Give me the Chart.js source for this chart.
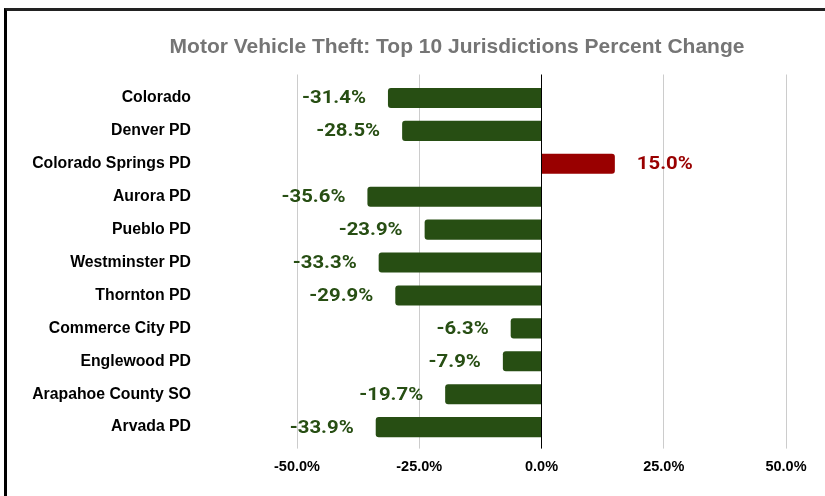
<!DOCTYPE html>
<html>
<head>
<meta charset="utf-8">
<script src="https://cdn.jsdelivr.net/npm/chart.js@4/dist/chart.umd.min.js"></script>
<style>
  html, body { margin: 0; padding: 0; background: #fff; overflow: hidden; }
  #frame {
    position: absolute; left: 4px; top: 8px; width: 900px; height: 600px;
    border-left: 3px solid #000; border-top: 3px solid #222;
  }
  #chart { position: absolute; left: 0; top: 0; }
  #title {
    position: absolute; left: 0; width: 914px; top: 33px;
    text-align: center; white-space: nowrap;
    font: bold 21px "Liberation Sans", Arial, sans-serif; color: #757575;
    line-height: 25px;
  }
</style>
</head>
<body>
<div id="frame"></div>
<canvas id="chart" width="825" height="496"></canvas>
<div id="title">Motor Vehicle Theft: Top 10 Jurisdictions Percent Change</div>
<script>
  const jurisdictions = [
    "Colorado",
    "Denver PD",
    "Colorado Springs PD",
    "Aurora PD",
    "Pueblo PD",
    "Westminster PD",
    "Thornton PD",
    "Commerce City PD",
    "Englewood PD",
    "Arapahoe County SO",
    "Arvada PD"
  ];

  const percentChange = [-31.4, -28.5, 15.0, -35.6, -23.9, -33.3, -29.9, -6.3, -7.9, -19.7, -33.9];

  const axisMin = -50;
  const axisMax = 50;
  const axisStep = 25;

  const green = "#274e13";
  const red = "#990000";

  // value labels next to the bar ends (no datalabels plugin offline)
  const valueLabels = {
    id: "valueLabels",
    afterDatasetsDraw(chart) {
      const ctx = chart.ctx;
      const bars = chart.getDatasetMeta(0).data;
      const stretch = 1.13;
      ctx.save();
      ctx.font = "bold 18px Roboto";
      ctx.textBaseline = "middle";
      ctx.textAlign = "left";
      bars.forEach((bar, i) => {
        const v = percentChange[i];
        const text = v.toFixed(1) + "%";
        const w = ctx.measureText(text).width * stretch;
        const x = v < 0 ? bar.x - 22 - w : bar.x + 22;
        ctx.save();
        ctx.translate(x, bar.y + 1);
        ctx.scale(stretch, 1);
        ctx.fillStyle = v < 0 ? green : red;
        ctx.fillText(text, 0, 0);
        ctx.restore();
      });
      ctx.restore();
    }
  };

  const gridColor = c => (c.tick && c.tick.value === 0 ? "#000" : "#cccccc");

  new Chart(document.getElementById("chart"), {
    type: "bar",
    data: {
      labels: jurisdictions,
      datasets: [{
        data: percentChange,
        backgroundColor: percentChange.map(v => (v < 0 ? green : red)),
        borderRadius: 3,
        barPercentage: 0.61,
        categoryPercentage: 1
      }]
    },
    options: {
      indexAxis: "y",
      responsive: false,
      animation: false,
      layout: { padding: { left: 20, right: 39, top: 74.5, bottom: 10 } },
      plugins: {
        legend: { display: false },
        tooltip: { enabled: false }
      },
      scales: {
        x: {
          min: axisMin,
          max: axisMax,
          border: { display: false },
          grid: { color: gridColor, tickColor: gridColor, tickLength: 5 },
          ticks: {
            stepSize: axisStep,
            padding: 10,
            color: "#000",
            font: { family: "Liberation Sans", size: 14.5, weight: "bold" },
            callback: v => v.toFixed(1) + "%"
          }
        },
        xTop: {
          position: "top",
          min: axisMin,
          max: axisMax,
          border: { display: false },
          grid: { drawOnChartArea: false, color: gridColor, tickColor: gridColor, tickLength: 7 },
          ticks: { stepSize: axisStep, display: false }
        },
        y: {
          border: { display: false },
          // invisible tick marks push the labels away from the plot
          grid: { drawOnChartArea: false, drawTicks: true, tickLength: 106, tickColor: "rgba(0,0,0,0)" },
          afterFit: s => { s.width = 277; },
          ticks: {
            padding: 0,
            color: "#000",
            font: { family: "Liberation Sans", size: 15.8, weight: "bold" }
          }
        }
      }
    },
    plugins: [valueLabels]
  });
</script>
</body>
</html>
